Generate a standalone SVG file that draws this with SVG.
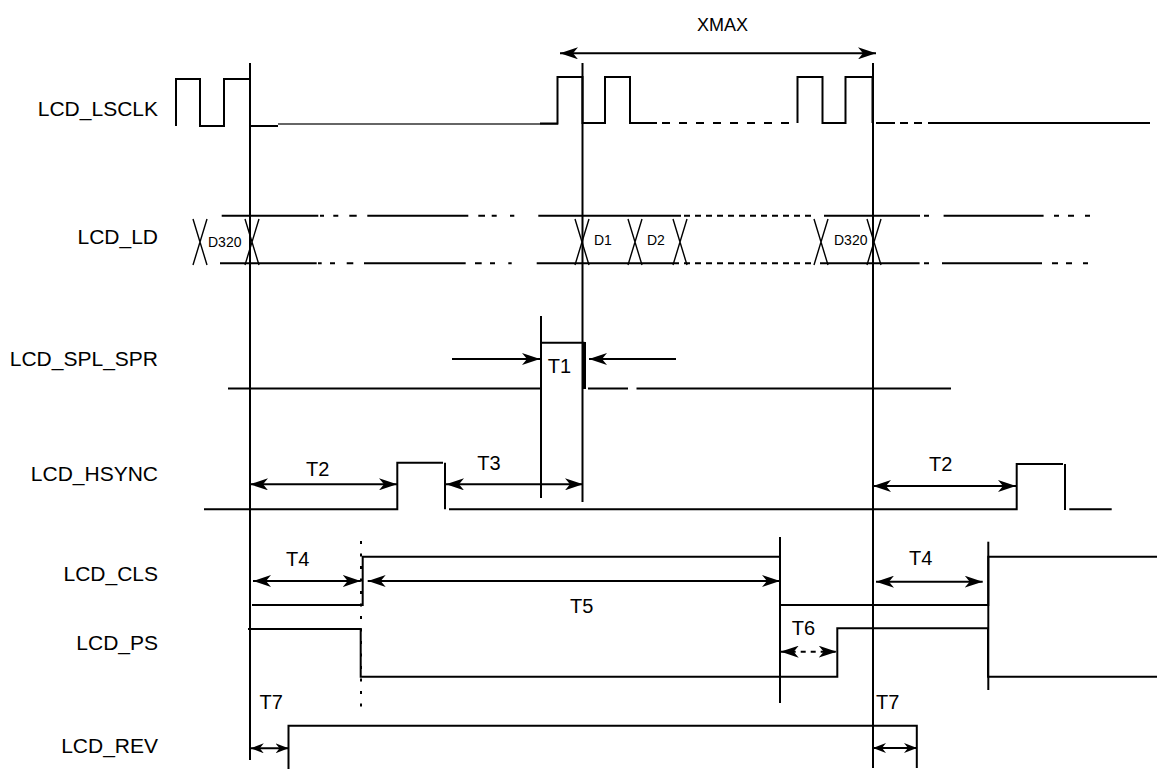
<svg xmlns="http://www.w3.org/2000/svg" width="1157" height="769" viewBox="0 0 1157 769">
<style>
.s{fill:none;stroke:#000;stroke-width:2}
.g{fill:none;stroke:#333;stroke-width:1.6}
.v{fill:none;stroke:#000;stroke-width:2}
.x{fill:none;stroke:#000;stroke-width:1.4}
.a{fill:none;stroke:#000;stroke-width:2;marker-start:url(#ah);marker-end:url(#ah)}
.a1{fill:none;stroke:#000;stroke-width:2;marker-end:url(#ah)}
.as{fill:none;stroke:#000;stroke-width:2;marker-start:url(#ahs);marker-end:url(#ahs)}
.t{font-family:"Liberation Sans",Arial,Helvetica,sans-serif;fill:#000}
.lbl{font-size:21px;text-anchor:end}
.tm{font-size:20px}
.d{font-size:14px}
</style>
<defs>
<marker id="ah" markerUnits="userSpaceOnUse" viewBox="0 0 18 12" markerWidth="18" markerHeight="12" refX="18" refY="6" orient="auto-start-reverse"><path d="M0,0 L18,6 L0,12 L5,6 Z" fill="#000"/></marker>
<marker id="ahs" markerUnits="userSpaceOnUse" viewBox="0 0 13 10" markerWidth="13" markerHeight="10" refX="13" refY="5" orient="auto-start-reverse"><path d="M0,0 L13,5 L0,10 L4,5 Z" fill="#000"/></marker>
</defs>

<g id="labels" class="t lbl">
<text x="158" y="116">LCD_LSCLK</text>
<text x="158" y="244">LCD_LD</text>
<text x="158" y="366">LCD_SPL_SPR</text>
<text x="158" y="481">LCD_HSYNC</text>
<text x="158" y="581">LCD_CLS</text>
<text x="158" y="650">LCD_PS</text>
<text x="158" y="753">LCD_REV</text>
</g>

<g id="lcd_lsclk">
<path class="s" d="M176,126 V79 H200 V126 H224 V79 H250 V126 H278"/>
<path class="g" d="M278,124 H558"/>
<path class="s" d="M540,123.5 H557.5 V77 H582.5 V123 H605 V77 H630 V123 H657"/>
<path class="s" d="M662,123 H797" stroke-dasharray="8 9"/>
<path class="s" d="M797.5,123 V77 H822.5 V123 H845.5 V77 H872.5 V123"/>
<path class="s" d="M876,123 H895 M900,123 H908 M914,123 H922 M928,123 H1150"/>
</g>

<g id="lcd_ld">
<path class="s" d="M221.7,215.7 H318.3 M320,215.7 H324 M333.3,215.7 H338.3 M349.3,215.7 H356.7 M367.3,215.7 H468.3 M478.3,215.7 H485 M491.7,215.7 H496.7 M510,215.7 H514.3 M538.3,215.7 H681"/>
<path class="s" d="M684,215.7 H812" stroke-dasharray="6 5"/>
<path class="s" d="M824,215.7 H920 M924,215.7 H929 M943.6,215.7 H1043.6 M1054,215.7 H1059 M1068,215.7 H1074 M1085,215.7 H1090"/>
<path class="s" d="M220,263.3 H316.7 M318,263.3 H321.7 M330,263.3 H335 M346.7,263.3 H353.3 M364,263.3 H465.7 M475,263.3 H481.7 M490,263.3 H495 M508.3,263.3 H511.7 M536.7,263.3 H679"/>
<path class="s" d="M684,263.3 H812" stroke-dasharray="6 5"/>
<path class="s" d="M820,263.3 H919.6 M924,263.3 H929 M942,263.3 H1042 M1052,263.3 H1058 M1066,263.3 H1072 M1083,263.3 H1088"/>
<path class="x" d="M193,219 L207,265 M207,219 L193,265 M245,219 L259,265 M259,219 L245,265 M575,219 L589,265 M589,219 L575,265 M628,219 L642,265 M642,219 L628,265 M673,219 L687,265 M687,219 L673,265 M814,219 L828,265 M828,219 L814,265 M867,219 L881,265 M881,219 L867,265"/>
<text class="t d" x="208" y="246.5">D320</text>
<text class="t d" x="594" y="245">D1</text>
<text class="t d" x="647" y="245">D2</text>
<text class="t d" x="834" y="245">D320</text>
</g>

<g id="lcd_spl_spr">
<path class="s" d="M228,388.5 H541"/>
<path class="s" d="M541,342.7 H584.5"/>
<path fill="none" stroke="#000" stroke-width="3" d="M584.5,342 V389"/>
<path class="s" d="M588,388.5 H628 M636.5,388.5 H951"/>
</g>

<g id="lcd_hsync">
<path class="s" d="M204,509.3 H397.3 V462.7 H443"/>
<path class="s" d="M445,462.7 V509.3"/>
<path class="s" d="M449,509.3 H1016.7 V464 H1063"/>
<path class="s" d="M1065,464 V510"/>
<path class="s" d="M1069.3,509.3 H1111.7"/>
</g>

<g id="lcd_cls">
<path class="s" d="M252,605 H362.7 V556.7 H780 V605 H988.3 V556.7 H1157"/>
</g>

<g id="lcd_ps">
<path class="s" d="M248,629 H360.7 V676.7 H837.3 V628.3 H988 V676.7 H1157"/>
</g>

<g id="lcd_rev">
<path class="s" d="M288.5,769 V725.7 H916.8 V768"/>
</g>

<g id="connectors">
<path class="v" d="M250,63 V760"/>
<path class="v" d="M582.5,63 V502"/>
<path class="v" d="M873,63 V768"/>
<path class="v" d="M541,316 V498"/>
<path class="v" d="M780,537 V703"/>
<path class="v" d="M988.3,541.7 V690"/>
<path class="v" d="M361,541 V716" stroke-dasharray="3 9.5"/>
<path class="a" d="M560,53.3 H876"/>
<path class="a1" d="M452,359 H540"/>
<path class="a1" d="M676,359 H589"/>
<path class="a" d="M250,484.3 H397"/>
<path class="a" d="M446,484.3 H583"/>
<path class="a" d="M873,486 H1016"/>
<path class="a" d="M253,581 H360.7"/>
<path class="a" d="M367.7,581 H780"/>
<path class="a" d="M876,581.7 H982.7"/>
<path class="a" d="M780.7,651.7 H836.7" stroke-dasharray="5 5"/>
<path class="as" d="M250.8,748.3 H288.5"/>
<path class="as" d="M873,748 H917"/>
</g>

<g id="timing_labels" class="t tm">
<text x="697" y="31" style="font-size:18px">XMAX</text>
<text x="547.7" y="372.7">T1</text>
<text x="306" y="476">T2</text>
<text x="477.3" y="470">T3</text>
<text x="929" y="470.7">T2</text>
<text x="286" y="565.7">T4</text>
<text x="909" y="565">T4</text>
<text x="570" y="613.3">T5</text>
<text x="791.7" y="635">T6</text>
<text x="259.5" y="709">T7</text>
<text x="876" y="709">T7</text>
</g>
</svg>
